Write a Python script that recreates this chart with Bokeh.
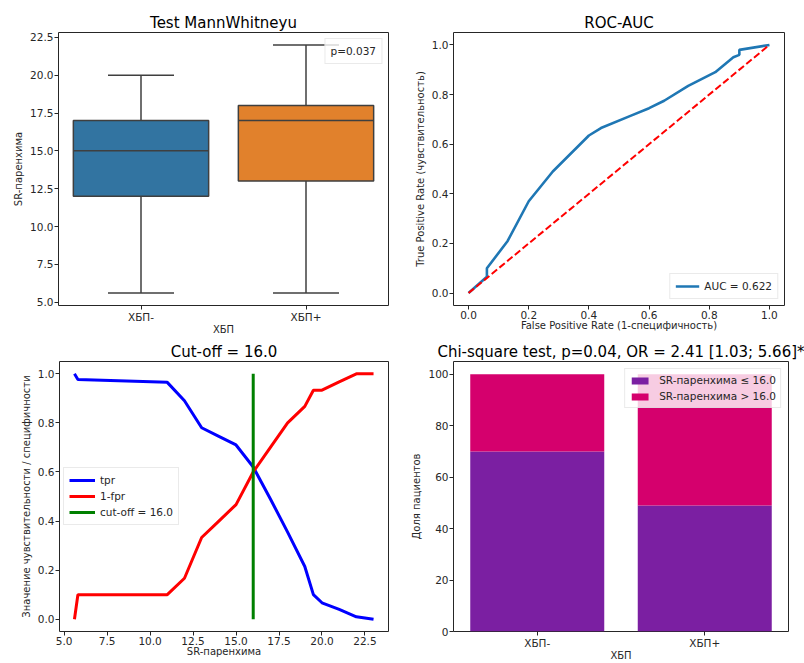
from bokeh.plotting import figure
from bokeh.layouts import column, row
from bokeh.models import (Range1d, FixedTicker, PrintfTickFormatter, Legend, LegendItem,
                          FactorRange, ColumnDataSource)
from bokeh.embed import file_html
from bokeh.resources import INLINE

FONT = "DejaVu Sans"
INK = "#262626"

# ---------------- data ----------------
# Panel 1: Mann-Whitney box plot
groups = ["ХБП-", "ХБП+"]
box_low = [5.6, 5.6]
box_q1 = [12.0, 13.0]
box_med = [15.0, 17.0]
box_q3 = [17.0, 18.0]
box_high = [20.0, 22.0]
box_colors = ["#3274A1", "#E1812C"]
box_yticks = [5.0, 7.5, 10.0, 12.5, 15.0, 17.5, 20.0, 22.5]
p_value_text = "p=0.037"

# Panel 2: ROC curve
roc_fpr = [0.0, 0.061, 0.061, 0.13, 0.20, 0.28, 0.40, 0.44, 0.54, 0.60, 0.65, 0.73, 0.82, 0.88, 0.90, 0.90, 1.0]
roc_tpr = [0.0, 0.066, 0.10, 0.21, 0.37, 0.49, 0.635, 0.665, 0.715, 0.745, 0.775, 0.835, 0.89, 0.95, 0.96, 0.98, 1.0]
diag = [0.0, 1.0]
auc_label = "AUC = 0.622"
unit_ticks = [0.0, 0.2, 0.4, 0.6, 0.8, 1.0]

# Panel 3: cut-off
thresholds = [5.6, 5.8, 11.0, 12.0, 13.0, 14.0, 15.0, 16.0, 17.0, 18.0, 19.0, 19.5, 20.0, 21.0, 22.0, 23.0]
tpr_vals = [1.0, 0.977, 0.965, 0.89, 0.78, 0.745, 0.71, 0.62, 0.49, 0.355, 0.215, 0.10, 0.067, 0.04, 0.01, 0.0]
one_minus_fpr = [0.0, 0.10, 0.10, 0.167, 0.333, 0.40, 0.467, 0.60, 0.70, 0.80, 0.867, 0.933, 0.933, 0.967, 1.0, 1.0]
cutoff = 16.0
cutoff_span = [0.0, 1.0]
sr_ticks = [5.0, 7.5, 10.0, 12.5, 15.0, 17.5, 20.0, 22.5]

# Panel 4: chi-square stacked bars
bar_groups = ["ХБП-", "ХБП+"]
share_low = [70.0, 49.0]
share_high = [30.0, 51.0]
share_ticks = [0, 20, 40, 60, 80, 100]


def style(p, xlabel, ylabel, title):
    p.title.text = title
    p.title.align = "center"
    p.title.text_font = FONT
    p.title.text_font_size = "15px"
    p.title.text_font_style = "normal"
    p.title.text_color = "black"
    p.title.standoff = 2
    p.outline_line_color = INK
    p.outline_line_width = 1
    p.outline_line_alpha = 1
    p.xgrid.visible = False
    p.ygrid.visible = False
    p.background_fill_color = "white"
    p.border_fill_color = "white"
    for ax in (p.xaxis[0], p.yaxis[0]):
        ax.axis_line_color = None
        ax.major_tick_line_color = INK
        ax.major_tick_out = 4
        ax.major_tick_in = 0
        ax.minor_tick_line_color = None
        ax.major_label_text_font = FONT
        ax.major_label_text_font_size = "10.5px"
        ax.major_label_text_color = INK
        ax.axis_label_text_font = FONT
        ax.axis_label_text_font_size = "10px"
        ax.axis_label_text_font_style = "normal"
        ax.axis_label_text_color = INK
        ax.major_label_standoff = 1
    p.xaxis.axis_label_standoff = -2
    p.yaxis.axis_label_standoff = 3
    p.xaxis.axis_label = xlabel
    p.yaxis.axis_label = ylabel


def style_legend(lg):
    lg.label_text_font = FONT
    lg.label_text_font_size = "10.5px"
    lg.label_text_color = INK
    lg.border_line_color = "#d5d5d5"
    lg.border_line_width = 1
    lg.background_fill_alpha = 0.8
    lg.padding = 5
    lg.spacing = 2
    lg.label_height = 14
    lg.glyph_height = 14


TOP_H = 339
BOT_H = 663 - TOP_H

# ---------------- panel 1 ----------------
x_idx = list(range(len(groups)))
box_src = ColumnDataSource(dict(
    x=x_idx, low=box_low, q1=box_q1, med=box_med, q3=box_q3, high=box_high, color=box_colors,
    cap_l=[i - 0.2 for i in x_idx], cap_r=[i + 0.2 for i in x_idx],
    box_l=[i - 0.41 for i in x_idx], box_r=[i + 0.41 for i in x_idx],
))
p1 = figure(width=402, height=TOP_H, x_range=Range1d(-0.5, 1.5), y_range=Range1d(4.78, 22.82),
            output_backend="svg", toolbar_location=None,
            min_border_left=58, min_border_right=14, min_border_top=32, min_border_bottom=TOP_H - 305)
style(p1, "ХБП", "SR-паренхима", "Test MannWhitneyu")
LC = "#3f3f3f"
p1.segment(x0="x", y0="low", x1="x", y1="q1", source=box_src, line_color=LC, line_width=1.5)
p1.segment(x0="x", y0="q3", x1="x", y1="high", source=box_src, line_color=LC, line_width=1.5)
p1.segment(x0="cap_l", y0="low", x1="cap_r", y1="low", source=box_src, line_color=LC, line_width=1.5)
p1.segment(x0="cap_l", y0="high", x1="cap_r", y1="high", source=box_src, line_color=LC, line_width=1.5)
p1.vbar(x="x", width=0.82, bottom="q1", top="q3", source=box_src, fill_color="color",
        line_color=LC, line_width=1.5)
p1.segment(x0="box_l", y0="med", x1="box_r", y1="med", source=box_src, line_color=LC, line_width=1.5)
ghost = p1.scatter(x="x", y="med", source=box_src, alpha=0)
p1.xaxis.ticker = FixedTicker(ticks=x_idx)
p1.xaxis.major_label_overrides = {i: g for i, g in zip(x_idx, groups)}
p1.yaxis.ticker = FixedTicker(ticks=box_yticks)
p1.yaxis.formatter = PrintfTickFormatter(format="%.1f")
lg1 = Legend(items=[LegendItem(label=p_value_text, renderers=[ghost])], location="top_right")
style_legend(lg1)
lg1.glyph_width = 0
lg1.label_standoff = 0
lg1.margin = 6
p1.add_layout(lg1, "center")

# ---------------- panel 2 ----------------
p2 = figure(width=402, height=TOP_H, x_range=Range1d(-0.05, 1.05), y_range=Range1d(-0.05, 1.05),
            output_backend="svg", toolbar_location=None,
            min_border_left=51, min_border_right=20, min_border_top=32, min_border_bottom=TOP_H - 305)
style(p2, "False Positive Rate (1-специфичность)", "True Positive Rate (чувствительность)", "ROC-AUC")
roc_line = p2.line(roc_fpr, roc_tpr, line_color="#1f77b4", line_width=2.6)
p2.line(diag, diag, line_color="red", line_width=2, line_dash="7 3")
p2.xaxis.ticker = FixedTicker(ticks=unit_ticks)
p2.yaxis.ticker = FixedTicker(ticks=unit_ticks)
p2.xaxis.formatter = PrintfTickFormatter(format="%.1f")
p2.yaxis.formatter = PrintfTickFormatter(format="%.1f")
lg2 = Legend(items=[LegendItem(label=auc_label, renderers=[roc_line])], location="bottom_right")
style_legend(lg2)
lg2.glyph_width = 24
lg2.margin = 6
p2.add_layout(lg2, "center")

# ---------------- panel 3 ----------------
p3 = figure(width=402, height=BOT_H, x_range=Range1d(4.73, 23.87), y_range=Range1d(-0.05, 1.05),
            output_backend="svg", toolbar_location=None,
            min_border_left=59, min_border_right=14, min_border_top=360 - TOP_H, min_border_bottom=663 - 633)
style(p3, "SR-паренхима", "Значение чувствительности / специфичности", "Cut-off = 16.0")
p3.line(thresholds, tpr_vals, line_color="blue", line_width=3, legend_label="tpr")
p3.line(thresholds, one_minus_fpr, line_color="red", line_width=3, legend_label="1-fpr")
p3.line([cutoff, cutoff], cutoff_span, line_color="green", line_width=3,
        legend_label="cut-off = %.1f" % cutoff)
p3.xaxis.ticker = FixedTicker(ticks=sr_ticks)
p3.yaxis.ticker = FixedTicker(ticks=unit_ticks)
p3.xaxis.formatter = PrintfTickFormatter(format="%.1f")
p3.yaxis.formatter = PrintfTickFormatter(format="%.1f")
p3.legend.location = "center_left"
style_legend(p3.legend[0])
p3.legend.glyph_width = 26
p3.legend.margin = 4

# ---------------- panel 4 ----------------
bar_src = ColumnDataSource(dict(group=bar_groups, low=share_low, high=share_high))
p4 = figure(width=402, height=BOT_H, x_range=FactorRange(*bar_groups), y_range=Range1d(0, 105),
            output_backend="svg", toolbar_location=None,
            min_border_left=51, min_border_right=16, min_border_top=360 - TOP_H, min_border_bottom=663 - 633)
style(p4, "ХБП", "Доля пациентов", "Chi-square test, p=0.04, OR = 2.41 [1.03; 5.66]*")
p4.vbar_stack(["low", "high"], x="group", width=0.8, source=bar_src,
              color=["#7B1FA2", "#D5006D"], line_width=0,
              legend_label=["SR-паренхима ≤ %.1f" % cutoff, "SR-паренхима > %.1f" % cutoff])
p4.x_range.range_padding = 0
p4.yaxis.ticker = FixedTicker(ticks=share_ticks)
p4.legend.location = "top_right"
style_legend(p4.legend[0])
p4.legend.glyph_width = 21
p4.legend.glyph_height = 9
p4.legend.label_standoff = 9
p4.legend.padding = 4
p4.legend.margin = 7

layout = column(row(p1, p2), row(p3, p4))
open("out.html", "w").write(file_html(layout, INLINE))
